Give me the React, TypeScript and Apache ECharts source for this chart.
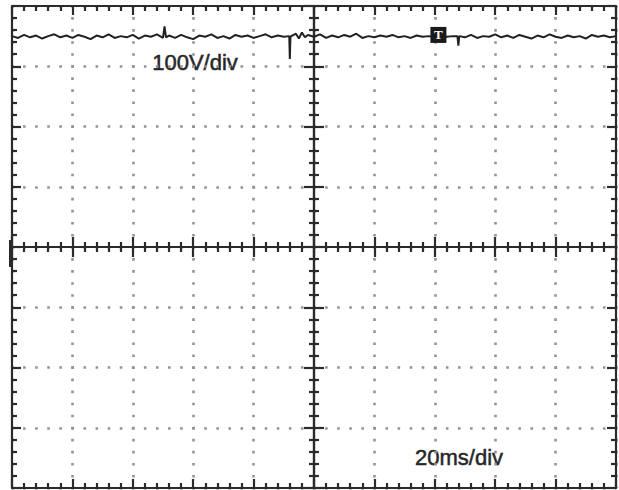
import React, { useEffect, useRef } from "react";
import * as echarts from "echarts";

// Time axis (ms) and voltage axis (V): 20 ms/div, 100 V/div
const X_MIN = -100;
const X_MAX = 100;
const X_STEP = 20;
const Y_MIN = -400;
const Y_MAX = 400;
const Y_STEP = 100;

// Labels on screen
const V_SCALE_LABEL = "100V/div";
const T_SCALE_LABEL = "20ms/div";

// Trace samples: time (ms)
const TRACE_T = [
  -100, -98, -96, -94, -92, -90, -88, -86, -84, -82, -80, -78, -76, -74, -72, -70, -68, -66, -64, -62,
  -60, -58, -56, -54, -52, -50, -49.5, -49, -48, -46, -44, -42, -40, -38, -36, -34, -32, -30, -28, -26,
  -24, -22, -20, -18, -16, -14, -12, -10, -8.2, -8, -7.8, -6, -5, -4, -3, -2, 0, 2, 4, 6,
  8, 10, 12, 14, 16, 18, 20, 22, 24, 26, 28, 30, 32, 34, 36, 38, 40, 42, 44, 46,
  47.5, 47.8, 48.1, 50, 52, 54, 56, 58, 60, 62, 64, 66, 68, 70, 72, 74, 76, 78, 80, 82,
  84, 86, 88, 90, 92, 94, 96, 98, 100,
];
// Trace samples: voltage (V)
const TRACE_V = [
  350, 347, 352, 348, 351, 346, 350, 353, 348, 351, 347, 352, 349, 345, 351, 348, 353, 347, 350, 348,
  352, 346, 351, 349, 353, 347, 366, 348, 351, 347, 352, 348, 345, 351, 349, 353, 347, 350, 346, 352,
  349, 351, 347, 350, 353, 348, 351, 349, 350, 312, 349, 354, 346, 356, 348, 352, 349, 353, 347, 351,
  348, 352, 349, 354, 347, 350, 348, 351, 349, 352, 348, 350, 347, 351, 349, 350, 348, 351, 349, 350,
  350, 334, 350, 348, 352, 347, 350, 349, 353, 348, 351, 347, 352, 349, 346, 351, 348, 353, 349, 347,
  351, 348, 350, 346, 352, 349, 351, 348, 350,
];

// Trigger marker position
const TRIG_T = 41.2;
const TRIG_V = 352;

const LINE = "#2b2b2b";
const DOT = "#939393";

export default function App() {
  const ref = useRef<HTMLDivElement>(null);

  useEffect(() => {
    if (!ref.current) return;
    const chart = echarts.init(ref.current, undefined, { renderer: "svg" });

    const gridRect = { left: 12, right: 3, top: 6, bottom: 2 };
    const lineStyle = { color: LINE, width: 2.2 };

    const xBase = (extra: any) => ({
      type: "value",
      min: X_MIN,
      max: X_MAX,
      interval: X_STEP,
      axisLabel: { show: false },
      ...extra,
    });
    const yBase = (extra: any) => ({
      type: "value",
      min: Y_MIN,
      max: Y_MAX,
      interval: Y_STEP,
      axisLabel: { show: false },
      ...extra,
    });

    const centerTick = { show: true, inside: true, length: 10, lineStyle };
    const centerMinor = { show: true, splitNumber: 5, length: 5, lineStyle };
    const borderTick = { show: true, inside: true, length: 9, lineStyle };
    const borderMinor = { show: true, splitNumber: 5, length: 5, lineStyle };

    const data = TRACE_T.map((t, i) => [t, TRACE_V[i]]);

    const textFont = "'Liberation Sans', Arial, sans-serif";

    chart.setOption({
      animation: false,
      backgroundColor: "#ffffff",
      grid: [
        { ...gridRect, show: false },
        { ...gridRect, show: false },
      ],
      xAxis: [
        xBase({
          gridIndex: 0,
          position: "bottom",
          axisLine: { show: true, onZero: true, lineStyle },
          axisTick: centerTick,
          minorTick: centerMinor,
          splitLine: {
            show: true,
            lineStyle: { color: DOT, width: 2.6, type: [2.6, 9.45], dashOffset: 1.3 },
          },
        }),
        xBase({
          gridIndex: 0,
          position: "top",
          axisLine: { show: true, onZero: true, lineStyle },
          axisTick: centerTick,
          minorTick: centerMinor,
          splitLine: { show: false },
        }),
        xBase({
          gridIndex: 1,
          position: "bottom",
          axisLine: { show: true, onZero: false, lineStyle },
          axisTick: borderTick,
          minorTick: borderMinor,
          splitLine: { show: false },
        }),
        xBase({
          gridIndex: 1,
          position: "top",
          axisLine: { show: true, onZero: false, lineStyle },
          axisTick: borderTick,
          minorTick: borderMinor,
          splitLine: { show: false },
        }),
      ],
      yAxis: [
        yBase({
          gridIndex: 0,
          position: "left",
          axisLine: { show: true, onZero: true, lineStyle },
          axisTick: centerTick,
          minorTick: centerMinor,
          splitLine: {
            show: true,
            lineStyle: { color: DOT, width: 2.6, type: [2.6, 9.48], dashOffset: 1.3 },
          },
        }),
        yBase({
          gridIndex: 0,
          position: "right",
          axisLine: { show: true, onZero: true, lineStyle },
          axisTick: centerTick,
          minorTick: centerMinor,
          splitLine: { show: false },
        }),
        yBase({
          gridIndex: 1,
          position: "left",
          axisLine: { show: true, onZero: false, lineStyle },
          axisTick: borderTick,
          minorTick: borderMinor,
          splitLine: { show: false },
        }),
        yBase({
          gridIndex: 1,
          position: "right",
          axisLine: { show: true, onZero: false, lineStyle },
          axisTick: borderTick,
          minorTick: borderMinor,
          splitLine: { show: false },
        }),
      ],
      series: [
        {
          type: "line",
          xAxisIndex: 0,
          yAxisIndex: 0,
          data,
          showSymbol: false,
          symbol: "none",
          lineStyle: { color: "#222222", width: 2 },
          markPoint: {
            symbol: "rect",
            symbolSize: [16, 16],
            itemStyle: { color: "#1a1a1a" },
            label: {
              show: true,
              position: "inside",
              formatter: "T",
              color: "#ffffff",
              fontSize: 13,
              fontWeight: "bold",
              fontFamily: "'Liberation Serif', serif",
            },
            data: [{ coord: [TRIG_T, TRIG_V] }],
          },
        },
      ],
      graphic: [
        {
          type: "rect",
          shape: { x: 9, y: 240, width: 4, height: 27 },
          style: { fill: LINE },
        },
        {
          type: "text",
          x: 195,
          y: 62,
          style: {
            text: V_SCALE_LABEL,
            fontSize: 22,
            fontFamily: textFont,
            fill: "#262626",
            stroke: "#262626",
            lineWidth: 0.5,
            align: "center",
            verticalAlign: "middle",
          },
        },
        {
          type: "text",
          x: 459,
          y: 457,
          style: {
            text: T_SCALE_LABEL,
            fontSize: 22,
            fontFamily: textFont,
            fill: "#262626",
            stroke: "#262626",
            lineWidth: 0.5,
            align: "center",
            verticalAlign: "middle",
          },
        },
      ],
    });

    return () => chart.dispose();
  }, []);

  return (
    <div
      ref={ref}
      style={{ position: "fixed", left: 0, top: 0, width: 619, height: 490, background: "#fff" }}
    />
  );
}
